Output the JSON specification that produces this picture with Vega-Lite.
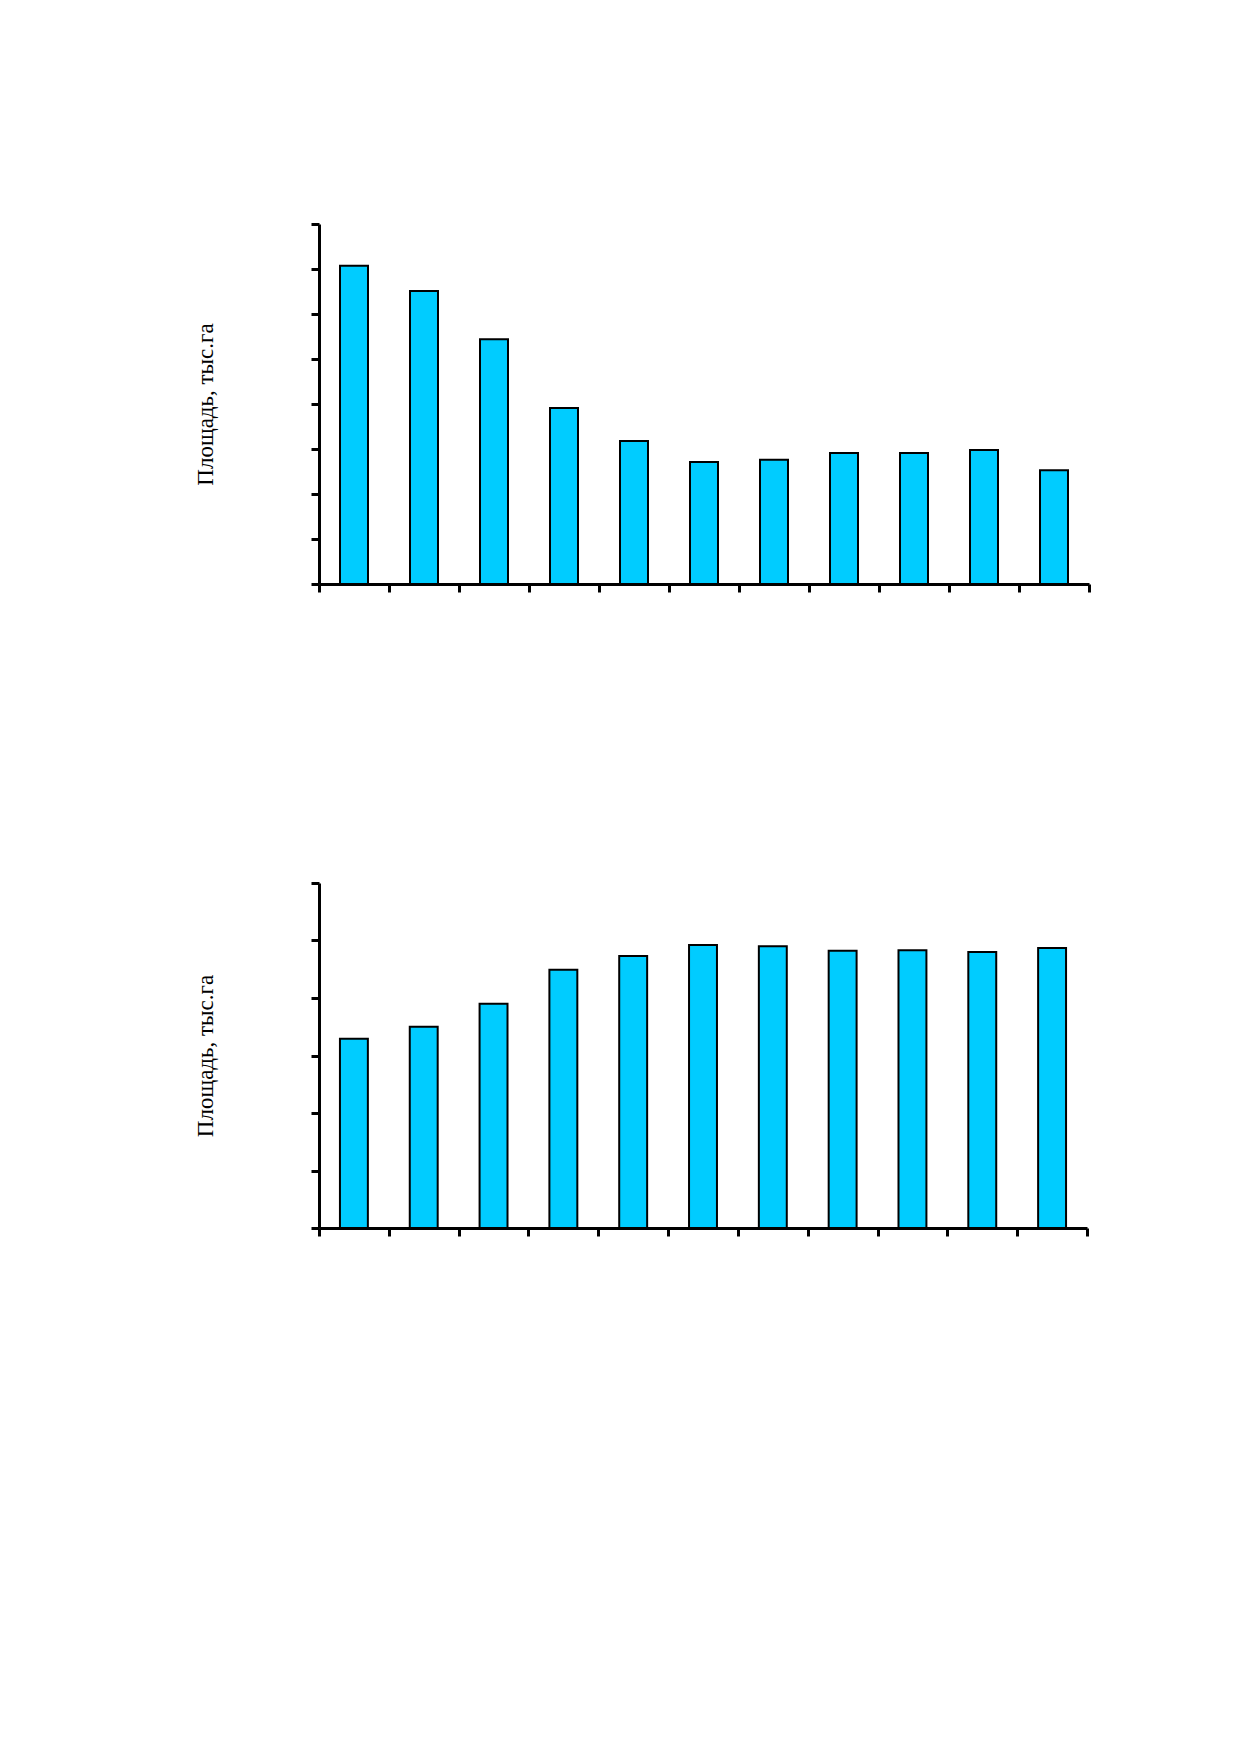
{
  "$schema": "https://vega.github.io/schema/vega-lite/v6.json",
  "padding": {"left": 194, "top": 222, "right": 0, "bottom": 0},
  "background": "white",
  "spacing": 287,
  "config": {
    "view": {"stroke": null},
    "axis": {
      "domainColor": "black",
      "domainWidth": 3,
      "tickColor": "black",
      "tickWidth": 3,
      "tickSize": 8,
      "labels": false,
      "grid": false,
      "titleFont": "Liberation Serif",
      "titleFontSize": 23,
      "titleFontWeight": "normal",
      "titleColor": "black"
    }
  },
  "vconcat": [
    {
      "width": 770,
      "height": 360,
      "data": {
        "values": [
          {"n": 1, "v": 7.07},
          {"n": 2, "v": 6.51},
          {"n": 3, "v": 5.44},
          {"n": 4, "v": 3.91},
          {"n": 5, "v": 3.18},
          {"n": 6, "v": 2.71},
          {"n": 7, "v": 2.76},
          {"n": 8, "v": 2.91},
          {"n": 9, "v": 2.91},
          {"n": 10, "v": 2.98},
          {"n": 11, "v": 2.53}
        ]
      },
      "mark": {"type": "bar", "fill": "#00CCFF", "stroke": "black", "strokeWidth": 2, "width": {"band": 0.4}},
      "encoding": {
        "x": {
          "field": "n",
          "type": "ordinal",
          "scale": {"paddingInner": 0, "paddingOuter": 0},
          "axis": {"title": null, "tickBand": "extent"}
        },
        "y": {
          "field": "v",
          "type": "quantitative",
          "scale": {"domain": [0, 8], "nice": false},
          "axis": {"title": "Площадь, тыс.га", "values": [0, 1, 2, 3, 4, 5, 6, 7, 8], "titlePadding": 92}
        }
      }
    },
    {
      "width": 768,
      "height": 345,
      "data": {
        "values": [
          {"n": 1, "v": 3.29},
          {"n": 2, "v": 3.5},
          {"n": 3, "v": 3.9},
          {"n": 4, "v": 4.49},
          {"n": 5, "v": 4.73},
          {"n": 6, "v": 4.92},
          {"n": 7, "v": 4.9},
          {"n": 8, "v": 4.82},
          {"n": 9, "v": 4.83},
          {"n": 10, "v": 4.8},
          {"n": 11, "v": 4.87}
        ]
      },
      "mark": {"type": "bar", "fill": "#00CCFF", "stroke": "black", "strokeWidth": 2, "width": {"band": 0.4}},
      "encoding": {
        "x": {
          "field": "n",
          "type": "ordinal",
          "scale": {"paddingInner": 0, "paddingOuter": 0},
          "axis": {"title": null, "tickBand": "extent"}
        },
        "y": {
          "field": "v",
          "type": "quantitative",
          "scale": {"domain": [0, 6], "nice": false},
          "axis": {"title": "Площадь, тыс.га", "values": [0, 1, 2, 3, 4, 5, 6], "titlePadding": 92}
        }
      }
    }
  ]
}
